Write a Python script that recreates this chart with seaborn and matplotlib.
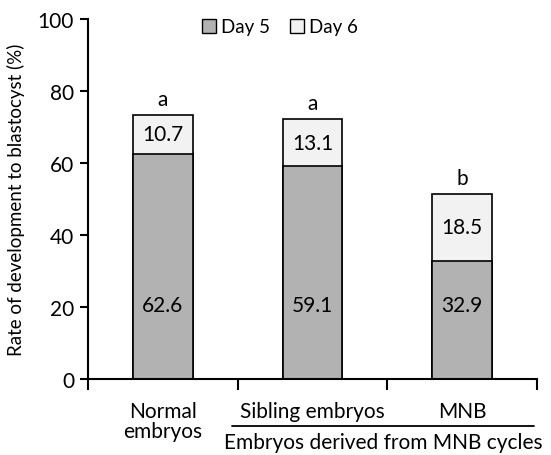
import matplotlib
matplotlib.use("Agg")
import matplotlib.pyplot as plt
import matplotlib.transforms as mtransforms
from matplotlib.patches import Patch
import pandas as pd
import seaborn as sns

# Data
categories = ["Normal\nembryos", "Sibling embryos", "MNB"]
day5 = [62.6, 59.1, 32.9]
day6 = [10.7, 13.1, 18.5]
letters = ["a", "a", "b"]
group_label = "Embryos derived from MNB cycles"

df = pd.DataFrame({"group": categories, "day5": day5, "day6": day6})
df["total"] = df["day5"] + df["day6"]

sns.set_style("ticks")
plt.rcParams["font.family"] = ["Lato", "DejaVu Sans"]
plt.rcParams["text.color"] = "black"
plt.rcParams["axes.labelcolor"] = "black"
plt.rcParams["xtick.color"] = "black"
plt.rcParams["ytick.color"] = "black"
fs = 15

c_day5 = "#b2b2b2"
c_day6 = "#f2f2f2"

fig = plt.figure(figsize=(5.51, 4.56), dpi=100)
ax = fig.add_axes([88 / 551, 1 - 380 / 456, (537 - 88) / 551, 360 / 456])

sns.barplot(data=df, x="group", y="total", color=c_day6, edgecolor="black",
            linewidth=1.2, width=0.4, saturation=1, ax=ax)
sns.barplot(data=df, x="group", y="day5", color=c_day5, edgecolor="black",
            linewidth=1.2, width=0.4, saturation=1, ax=ax)

for i, row in df.iterrows():
    ax.text(i, 20.5, f"{row.day5:.1f}", ha="center", va="center", fontsize=fs)
    ax.text(i, row.day5 + row.day6 / 2, f"{row.day6:.1f}", ha="center",
            va="center", fontsize=fs)
    ax.text(i, row.total + 4.5, letters[i], ha="center", va="center", fontsize=fs)

ax.set_ylim(0, 100)
ax.set_xlim(-0.5, len(categories) - 0.5)
ax.set_yticks(range(0, 101, 20))
ax.set_xlabel("")
ax.set_ylabel("Rate of development to blastocyst (%)", fontsize=13.5, labelpad=9)

ax.set_xticks(range(len(categories)))
ax.set_xticklabels(categories, fontsize=fs, linespacing=1.0)
ax.tick_params(axis="x", which="major", length=0, pad=16)
ax.set_xticks([-0.5 + k for k in range(len(categories) + 1)], minor=True)
ax.tick_params(axis="x", which="minor", length=8, width=1.5, direction="out")
ax.tick_params(axis="y", length=6, width=1.5, labelsize=fs, pad=4)

for s in ["top", "right"]:
    ax.spines[s].set_visible(False)
for s in ["left", "bottom"]:
    ax.spines[s].set_linewidth(1.5)
    ax.spines[s].set_color("black")

# bracket for the MNB-cycle groups
trans = mtransforms.blended_transform_factory(ax.transData, ax.transAxes)
ax.plot([0.46, 2.48], [-0.131, -0.131], color="black", lw=1.3,
        transform=trans, clip_on=False)
ax.text(1.47, -0.175, group_label, ha="center", va="center", fontsize=fs,
        transform=trans)

handles = [Patch(facecolor=c_day5, edgecolor="black", label="Day 5"),
           Patch(facecolor=c_day6, edgecolor="black", label="Day 6")]
fig.legend(handles=handles, loc="center", bbox_to_anchor=(280 / 551, 1 - 28 / 456),
           ncol=2, frameon=False, fontsize=13.5, handlelength=0.75,
           handleheight=0.75, handletextpad=0.25, columnspacing=1.1)

fig.savefig("out.png", dpi=100)
